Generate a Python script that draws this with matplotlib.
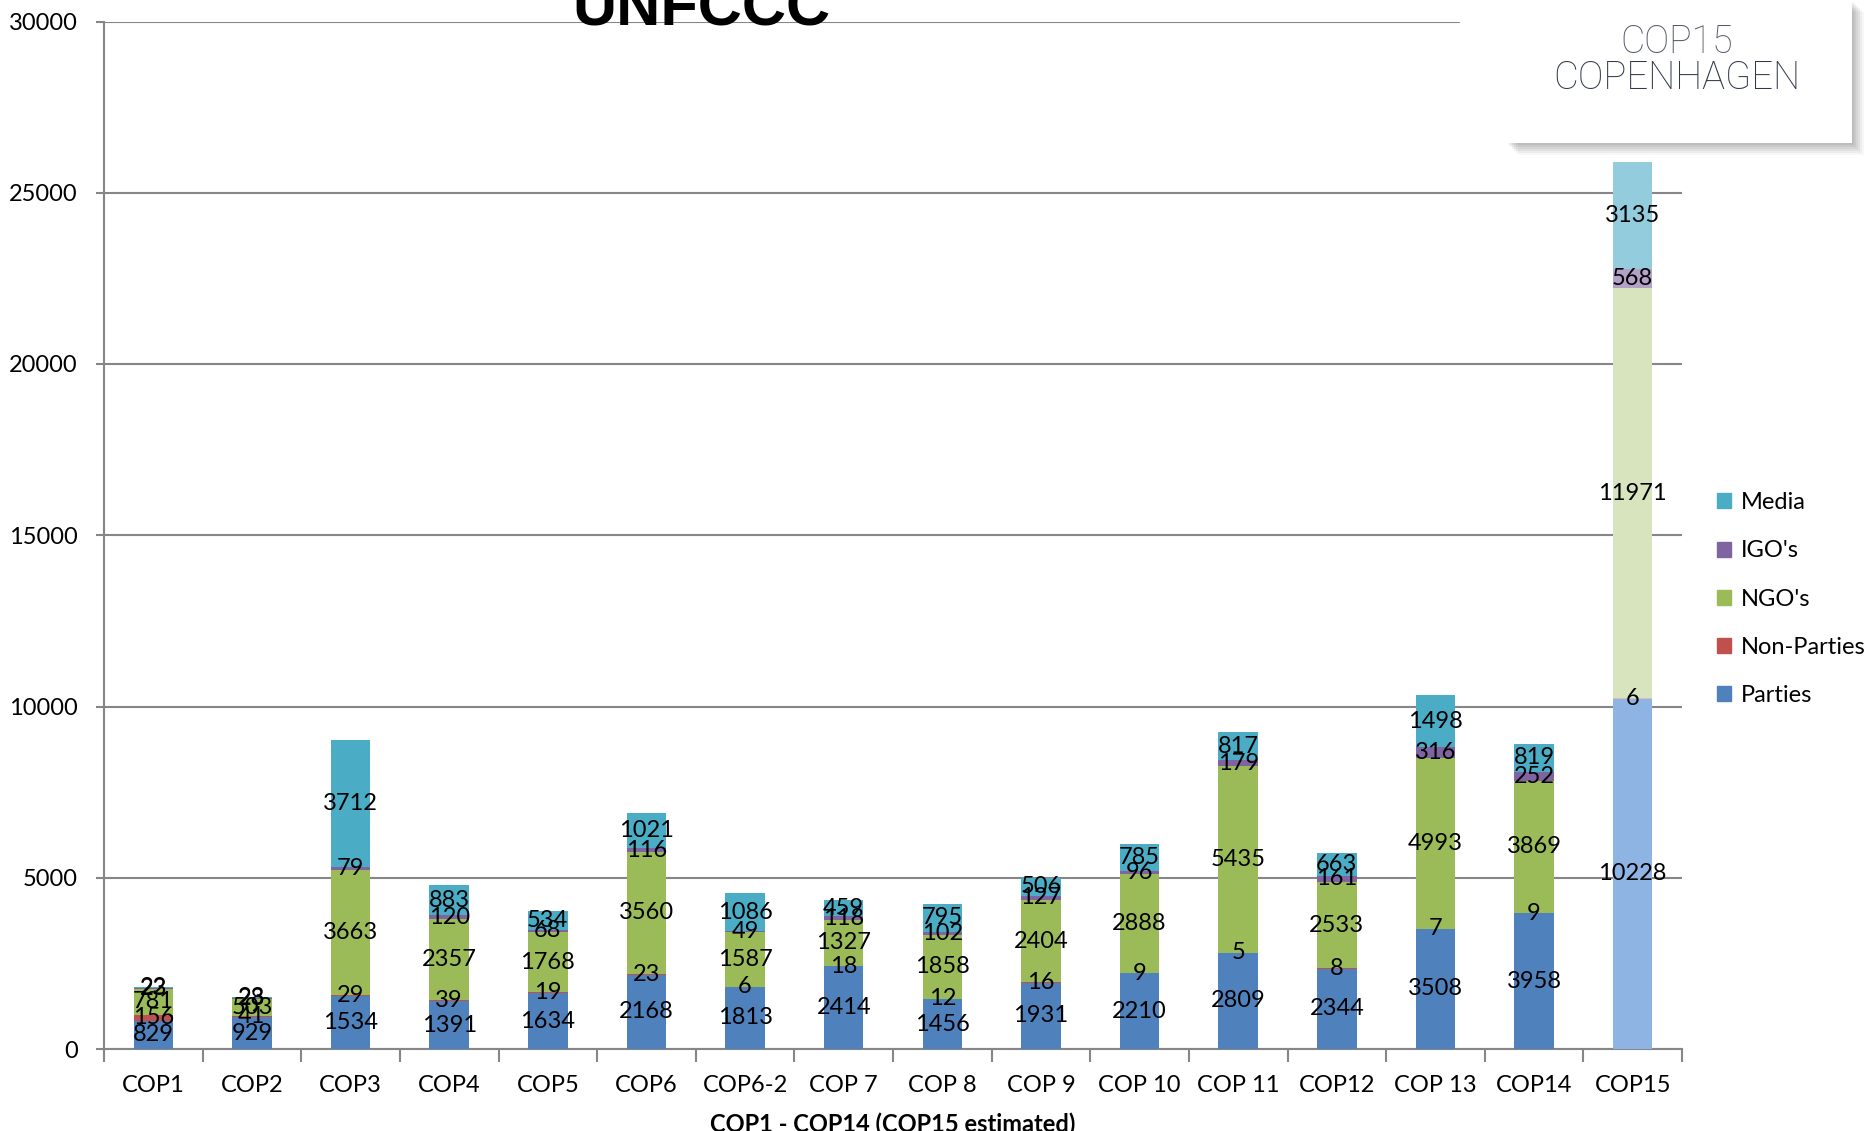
import numpy as np
import matplotlib
matplotlib.use("Agg")
from matplotlib import pyplot as plt
from matplotlib.patches import Rectangle, Patch

# attendance per COP (COP15 estimated)
cops = ['COP1', 'COP2', 'COP3', 'COP4', 'COP5', 'COP6', 'COP6-2', 'COP 7',
        'COP 8', 'COP 9', 'COP 10', 'COP 11', 'COP12', 'COP 13', 'COP14', 'COP15']
parties = [829, 929, 1534, 1391, 1634, 2168, 1813, 2414, 1456, 1931, 2210, 2809, 2344, 3508, 3958, 10228]
non_parties = [156, 41, 29, 39, 19, 23, 6, 18, 12, 16, 9, 5, 8, 7, 9, 6]
ngos = [781, 503, 3663, 2357, 1768, 3560, 1587, 1327, 1858, 2404, 2888, 5435, 2533, 4993, 3869, 11971]
igos = [23, 28, 79, 120, 68, 116, 49, 118, 102, 127, 96, 179, 161, 316, 252, 568]
media = [22, 23, 3712, 883, 534, 1021, 1086, 459, 795, 506, 785, 817, 663, 1498, 819, 3135]

series = [("Parties", parties, '#4F81BD', '#8EB4E3'),
          ("Non-Parties", non_parties, '#C0504D', '#E6B9B8'),
          ("NGO's", ngos, '#9BBB59', '#D7E4BD'),
          ("IGO's", igos, '#8064A2', '#B3A2C7'),
          ("Media", media, '#4BACC6', '#93CDDD')]

plt.rcParams['font.family'] = ['Lato', 'DejaVu Sans']
fs = 17

fig = plt.figure(figsize=(18.71, 11.31), dpi=100)
ax = fig.add_axes([104/1871, 1 - 1049/1131, (1682-104)/1871, (1049-21.5)/1131])

x = np.arange(len(cops))
bottom = np.zeros(len(cops))
for name, vals, col, col_est in series:
    vals = np.array(vals, dtype=float)
    colors = [col] * (len(cops) - 1) + [col_est]
    bars = ax.bar(x, vals, 0.4, bottom=bottom, color=colors, label=name, zorder=3)
    ax.bar_label(bars, labels=[str(int(v)) for v in vals], label_type='center',
                 fontsize=fs, color='black', zorder=4)
    bottom += vals

ax.set_xlim(-0.5, len(cops) - 0.5)
ax.set_ylim(0, 30000)
ax.set_yticks(np.arange(0, 30001, 5000))
ax.set_yticklabels([str(v) for v in range(0, 30001, 5000)], fontsize=fs)
ax.set_xticks(x)
ax.set_xticklabels(cops, fontsize=fs)
ax.set_xticks(np.arange(-0.5, len(cops), 1), minor=True)
ax.tick_params(axis='x', which='major', length=0, pad=19)
ax.tick_params(axis='x', which='minor', length=9, width=1.5, color='#868686')
ax.tick_params(axis='y', length=6, width=1.5, color='#868686', pad=13)
ax.grid(axis='y', color='#868686', linewidth=1.5, zorder=0)
for s in ['top', 'right']:
    ax.spines[s].set_visible(False)
for s in ['left', 'bottom']:
    ax.spines[s].set_color('#868686')
    ax.spines[s].set_linewidth(1.5)

handles = [Patch(color=c, label=n) for n, v, c, ce in series][::-1]
fig.legend(handles=handles, loc='center left', bbox_to_anchor=(1696/1871, 1 - 599/1131),
           frameon=False, fontsize=fs, handlelength=0.6, handleheight=0.6,
           handletextpad=0.4, labelspacing=1.15)

fig.text(701/1871, 1 - 25/1131, 'UNFCCC', family='Liberation Sans', fontweight='bold',
         fontsize=44, ha='center', va='baseline')
fig.text(893/1871, 1 - 1113/1131, 'COP1 - COP14 (COP15 estimated)', fontweight='bold',
         fontsize=fs, ha='center', va='top')

# logo box
fig.patches.append(Rectangle((1460/1871, 1 - 150/1131), 411/1871, 150/1131,
                             transform=fig.transFigure, color='white', zorder=5))
for i, a in enumerate([0.05, 0.05, 0.05, 0.05, 0.04, 0.03]):
    d = (i + 1) * 2
    fig.patches.append(Rectangle(((1506 + d)/1871, 1 - (143 + d)/1131), 346/1871, 143/1131,
                                 transform=fig.transFigure, color='black', alpha=a,
                                 zorder=6, lw=0))
fig.patches.append(Rectangle((1506/1871, 1 - 143/1131), 346/1871, 143/1131,
                             transform=fig.transFigure, color='white', zorder=7, lw=0))
fig.text(1677/1871, 1 - 42/1131, 'COP15', family='Roboto', fontweight='light',
         fontsize=27, color='#555a66', ha='center', va='center', zorder=8)
fig.text(1677/1871, 1 - 78/1131, 'COPENHAGEN', family='Roboto', fontweight='light',
         fontsize=27.5, color='#2f3748', ha='center', va='center', zorder=8)

fig.savefig('out.png', dpi=100)
